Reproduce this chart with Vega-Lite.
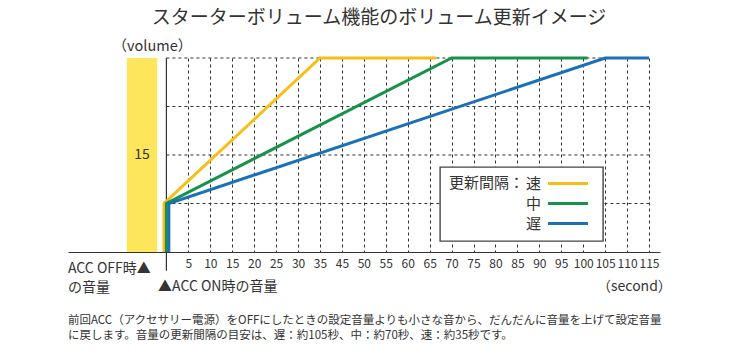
{
  "$schema": "https://vega.github.io/schema/vega-lite/v6.json",
  "width": 592,
  "height": 194,
  "autosize": {"type": "none"},
  "padding": {"left": 68, "top": 58, "right": 71, "bottom": 108},
  "background": "white",
  "config": {
    "font": "Noto Sans CJK JP",
    "view": {"stroke": null},
    "text": {"font": "Noto Sans CJK JP", "color": "#333"},
    "axis": {"labelOverlap": false, "labelSeparation": 0},
    "axisX": {"labelOverlap": false},
    "legend": {"strokeWidth": 1.4}
  },
  "title": {
    "text": "スターターボリューム機能のボリューム更新イメージ",
    "fontSize": 19,
    "fontWeight": "normal",
    "color": "#333",
    "anchor": "middle",
    "dx": 15,
    "offset": 10
  },
  "layer": [
    {
      "data": {"values": [{"level": 3.75}, {"level": 7.5}, {"level": 11.25}, {"level": 15}]},
      "mark": {"type": "rule", "strokeDash": [3, 3], "color": "#333", "strokeWidth": 1},
      "encoding": {
        "y": {"field": "level", "type": "quantitative"},
        "x": {"datum": 0},
        "x2": {"datum": 115}
      }
    },
    {
      "data": {"values": [{"start": -9, "end": -2.1, "volume": 15}]},
      "layer": [
        {
          "mark": {"type": "rect", "color": "#FDE65C"},
          "encoding": {
            "x": {"field": "start", "type": "quantitative"},
            "x2": {"field": "end"},
            "y": {"field": "volume", "type": "quantitative"},
            "y2": {"datum": 0}
          }
        },
        {
          "mark": {"type": "text", "fontSize": 14, "color": "#333"},
          "encoding": {
            "x": {"datum": -5.55},
            "y": {"datum": 7.5},
            "text": {"field": "volume"}
          }
        }
      ]
    },
    {
      "data": {"values": [{}]},
      "mark": {"type": "rule", "color": "#333", "strokeWidth": 1.2},
      "encoding": {
        "x": {"datum": 0},
        "y": {"datum": -1.45},
        "y2": {"datum": 15}
      }
    },
    {
      "data": {
        "values": [
          {"speed": "速", "sec": -0.55, "vol": 0},
          {"speed": "速", "sec": -0.55, "vol": 3.75},
          {"speed": "速", "sec": 35, "vol": 15},
          {"speed": "速", "sec": 66.5, "vol": 15},
          {"speed": "中", "sec": 0, "vol": 0},
          {"speed": "中", "sec": 0, "vol": 3.75},
          {"speed": "中", "sec": 70, "vol": 15},
          {"speed": "中", "sec": 101, "vol": 15},
          {"speed": "遅", "sec": 0.55, "vol": 0},
          {"speed": "遅", "sec": 0.55, "vol": 3.75},
          {"speed": "遅", "sec": 105, "vol": 15},
          {"speed": "遅", "sec": 115, "vol": 15}
        ]
      },
      "mark": {"type": "line", "strokeWidth": 3, "strokeCap": "butt"},
      "encoding": {
        "x": {
          "field": "sec",
          "type": "quantitative",
          "scale": {
            "type": "linear",
            "domain": [-22.4, 0, 35, 45, 117.5],
            "range": [0, 98.4, 252, 273.9, 592],
            "nice": false,
            "zero": false
          },
          "axis": {
            "title": null,
            "values": [5, 10, 15, 20, 25, 30, 35, 45, 50, 55, 60, 65, 70, 75, 80, 85, 90, 95, 100, 105, 110, 115],
            "tickCount": 40,
            "format": "d",
            "grid": true,
            "gridDash": [3, 3],
            "gridColor": "#333",
            "gridOpacity": 1,
            "ticks": false,
            "domainColor": "#333",
            "labelFontSize": 12,
            "labelColor": "#333",
            "labelPadding": 6,
            "labelOverlap": false,
            "labelFlush": false,
            "labelBound": false
          }
        },
        "y": {
          "field": "vol",
          "type": "quantitative",
          "scale": {"domain": [0, 15], "nice": false, "zero": true},
          "axis": {
            "title": "（volume）",
            "domain": false,
            "ticks": false,
            "labels": false,
            "grid": false,
            "titleAngle": 0,
            "titleX": 44,
            "titleY": -12,
            "titleAlign": "left",
            "titleBaseline": "middle",
            "titleFontSize": 14.5,
            "titleFontWeight": "normal",
            "titleColor": "#333"
          }
        },
        "color": {
          "field": "speed",
          "type": "nominal",
          "scale": {"domain": ["速", "中", "遅"], "range": ["#F8BE18", "#17924A", "#1B70B8"]},
          "legend": {
            "title": "更新間隔：",
            "orient": "none",
            "legendX": 372,
            "legendY": 109,
            "titleOrient": "left",
            "titleAnchor": "start",
            "titleBaseline": "top",
            "symbolType": "M-4,0H4",
            "symbolSize": 100,
            "symbolStrokeWidth": 3,
            "labelAlign": "right",
            "symbolOffset": 35.5,
            "labelOffset": -34.5,
            "padding": 9,
            "columnPadding": 0,
            "strokeColor": "#444",
            "fillColor": "white",
            "labelFontSize": 15,
            "titleFontSize": 15,
            "titleFontWeight": "normal",
            "titleColor": "#333",
            "labelColor": "#333",
            "titlePadding": 0,
            "rowPadding": 4
          }
        },
        "order": {"field": "vol", "type": "quantitative"}
      }
    },
    {
      "data": {"values": [{}]},
      "layer": [
        {
          "mark": {"type": "text", "align": "left", "baseline": "middle", "fontSize": 14},
          "encoding": {"x": {"datum": -22.4}, "y": {"datum": -1.28}, "text": {"value": "ACC OFF時▲"}}
        },
        {
          "mark": {"type": "text", "align": "left", "baseline": "middle", "fontSize": 14},
          "encoding": {"x": {"datum": -22.4}, "y": {"datum": -2.82}, "text": {"value": "の音量"}}
        },
        {
          "mark": {"type": "text", "align": "left", "baseline": "middle", "fontSize": 14},
          "encoding": {"x": {"datum": -1.9}, "y": {"datum": -2.74}, "text": {"value": "▲ACC ON時の音量"}}
        },
        {
          "mark": {"type": "text", "align": "right", "baseline": "middle", "fontSize": 14},
          "encoding": {"x": {"datum": 120.2}, "y": {"datum": -2.74}, "text": {"value": "（second）"}}
        },
        {
          "mark": {"type": "text", "align": "left", "baseline": "top", "fontSize": 11.5, "lineHeight": 15},
          "encoding": {
            "x": {"datum": -22.4},
            "y": {"datum": -4.9},
            "text": {"value": ["前回ACC（アクセサリー電源）をOFFにしたときの設定音量よりも小さな音から、だんだんに音量を上げて設定音量", "に戻します。音量の更新間隔の目安は、遅：約105秒、中：約70秒、速：約35秒です。"]}
          }
        }
      ]
    }
  ]
}
